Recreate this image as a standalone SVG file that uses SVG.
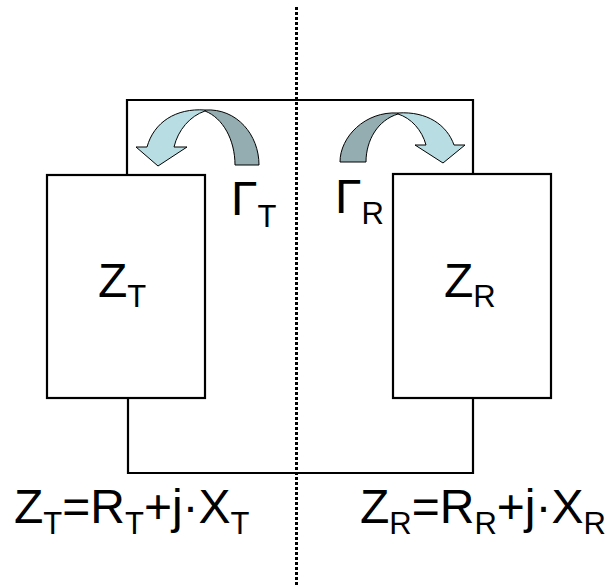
<svg xmlns="http://www.w3.org/2000/svg" width="607" height="587" viewBox="0 0 607 587">
<style>
.w{fill:none;stroke:#000;stroke-width:2.2}
.box{fill:#fff;stroke:#000;stroke-width:2.2}
.t{font-family:"Liberation Sans",Arial,sans-serif;font-size:48px;fill:#000}
.s{font-size:31px}
.lt{fill:#b8dde2;stroke:#000;stroke-width:1}
.dk{fill:#93adb0;stroke:#000;stroke-width:1}
</style>
<rect width="607" height="587" fill="#fff"/>
<g id="connectors">
<path class="w" d="M127,175 V100 H473 V175"/>
<path class="w" d="M128,398 V473 H473 V398"/>
<line x1="296.5" y1="7" x2="296.5" y2="587" stroke="#000" stroke-width="3" stroke-dasharray="3 2"/>
</g>
<g id="ZT">
<rect class="box" x="47" y="175" width="158" height="223"/>
<text class="t" x="98" y="297">Z<tspan class="s" dy="10">T</tspan></text>
</g>
<g id="ZR">
<rect class="box" x="393" y="174" width="158" height="224"/>
<text class="t" x="444" y="297">Z<tspan class="s" dy="10">R</tspan></text>
</g>
<g id="gammaT">
<path class="dk" d="M205,110 C237,108 259,135 259,165 L235,165 C235,140 223,118 205,111 Z"/>
<path class="lt" d="M205,110 C176,108 154,122 147,147 L136,147 L158,166 L187,147 L174,147 C178,130 190,116 205,111 Z"/>
<text class="t" x="231" y="215">Γ<tspan class="s" dy="12">T</tspan></text>
</g>
<g id="gammaR">
<path class="dk" d="M398,113 C365,111 340,137 340,162 L366,162 C366,140 378,120 398,114 Z"/>
<path class="lt" d="M398,113 C427,111 447,125 454,145 L465,145 L443,163 L415,145 L426,145 C422,130 411,118 398,114 Z"/>
<text class="t" x="335" y="213">Γ<tspan class="s" dy="11">R</tspan></text>
</g>
<g id="eqT">
<text class="t" x="14" y="523">Z<tspan class="s" dy="11">T</tspan><tspan dy="-11">=R</tspan><tspan class="s" dy="11">T</tspan><tspan dy="-11">+j·X</tspan><tspan class="s" dy="11">T</tspan></text>
</g>
<g id="eqR">
<text class="t" x="360" y="523">Z<tspan class="s" dy="11">R</tspan><tspan dy="-11">=R</tspan><tspan class="s" dy="11">R</tspan><tspan dy="-11">+j·X</tspan><tspan class="s" dy="11">R</tspan></text>
</g>
</svg>
